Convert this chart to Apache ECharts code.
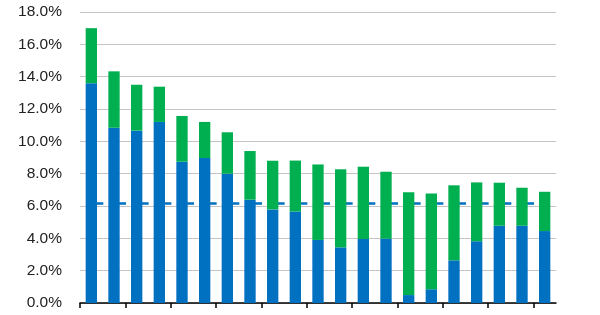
<!DOCTYPE html>
<html>
<head>
<meta charset="utf-8">
<script src="https://cdn.jsdelivr.net/npm/echarts@6/dist/echarts.min.js"></script>
<style>
html,body{margin:0;padding:0;background:#fff;}
#chart{width:600px;height:315px;}
</style>
</head>
<body>
<div id="chart"></div>
<script>
var categories = ['1','2','3','4','5','6','7','8','9','10','11','12','13','14','15','16','17','18','19','20','21'];
var blueValues = [13.6, 10.84, 10.66, 11.2, 8.74, 8.97, 8.0, 6.39, 5.79, 5.66, 3.90, 3.44, 3.96, 3.98, 0.49, 0.85, 2.64, 3.82, 4.78, 4.78, 4.45];
var greenValues = [3.4, 3.49, 2.84, 2.18, 2.83, 2.23, 2.56, 3.01, 3.01, 3.15, 4.67, 4.83, 4.47, 4.14, 6.36, 5.93, 4.64, 3.64, 2.66, 2.35, 2.43];
var averageValue = 6.15;
var yTicks = [0, 2, 4, 6, 8, 10, 12, 14, 16, 18];
var xTickBoundaries = [0, 2, 4, 6, 8, 10, 12, 14, 16, 18, 20];

var gridLeft = 80, gridRight = 44, gridTop = 12, gridBottom = 12;
var plotWidth = 600 - gridLeft - gridRight;
var period = plotWidth / categories.length;
var avgLine = categories.map(function(){ return averageValue; });

var chart = echarts.init(document.getElementById('chart'), null, {renderer:'canvas'});
chart.setOption({
  animation: false,
  grid: {left: gridLeft, right: gridRight, top: gridTop, bottom: gridBottom, containLabel: false},
  xAxis: [{
    type: 'category',
    data: categories,
    boundaryGap: true,
    axisLine: {show: false},
    axisTick: {show: false},
    axisLabel: {show: false},
    splitLine: {show: false}
  }, {
    type: 'value',
    position: 'bottom',
    min: 0,
    max: categories.length,
    axisLine: {show: true, onZero: false, lineStyle: {color: '#000', width: 1.5}},
    axisTick: {show: true, customValues: xTickBoundaries, length: 5, inside: false, lineStyle: {color: '#000', width: 1.5}},
    axisLabel: {show: false},
    splitLine: {show: false}
  }],
  yAxis: {
    type: 'value',
    min: yTicks[0],
    max: yTicks[yTicks.length - 1],
    interval: 2,
    axisLine: {show: false},
    axisTick: {show: false},
    axisLabel: {
      margin: 18,
      fontFamily: 'Liberation Sans, Arial, sans-serif',
      fontSize: 15.5,
      color: '#222',
      formatter: function(v){ return v.toFixed(1) + '%'; }
    },
    splitLine: {show: true, lineStyle: {color: '#c4c4c4', width: 1}}
  },
  series: [
    {
      type: 'line',
      data: avgLine,
      z: 1,
      symbol: 'none',
      silent: true,
      lineStyle: {color: '#0070C0', width: 2.5, type: [12, period - 12]}
    },
    {
      type: 'bar',
      stack: 'total',
      data: blueValues,
      barWidth: '50%',
      z: 3,
      itemStyle: {color: '#0070C0'}
    },
    {
      type: 'bar',
      stack: 'total',
      data: greenValues,
      barWidth: '50%',
      z: 3,
      itemStyle: {color: '#00B050'}
    }
  ]
});
</script>
</body>
</html>
